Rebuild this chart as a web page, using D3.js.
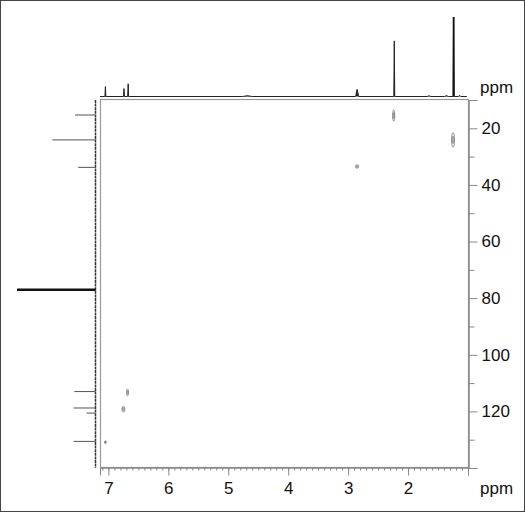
<!DOCTYPE html>
<html>
<head>
<meta charset="utf-8">
<script src="https://cdn.jsdelivr.net/npm/d3@7"></script>
<style>
  body { margin: 0; background: #fff; }
  svg { display: block; font-family: 'Liberation Sans', Arial, sans-serif; }
</style>
</head>
<body>
<div id="App"></div>
<script>
// 1H projection peaks: shift (ppm), intensity (% of tallest), half width (ppm)
const hShift = [7.05, 6.74, 6.67, 4.68, 2.85, 2.23, 1.65, 1.36, 1.24, 1.14];
const hInt = [12.5, 10, 16, 1, 9, 70, 1, 1.2, 100, 1.5];
const hWidth = [0.008, 0.008, 0.008, 0.08, 0.025, 0.008, 0.03, 0.03, 0.01, 0.02];

// 13C projection peaks
const cShift = [15.3, 24.1, 33.8, 77.0, 113.0, 118.8, 120.6, 130.6];
const cInt = [26, 55, 22, 100, 27, 28, 11.5, 28];

// HSQC cross peaks: 1H shift, 13C shift, contour size (ppm)
const xpH = [2.24, 1.25, 2.85, 6.68, 6.75, 7.05];
const xpC = [15.5, 24.1, 33.5, 113.3, 119.2, 130.9];
const xpDH = [0.018, 0.025, 0.028, 0.015, 0.025, 0.015];
const xpDC = [2.0, 2.6, 0.6, 1.2, 1.0, 0.5];

const xTicks = [7, 6, 5, 4, 3, 2];
const yTicks = [20, 40, 60, 80, 100, 120];

const width = 525;
const height = 512;
const box = { left: 100, right: 468, top: 100, bottom: 468 };

const svg = d3.select('#App')
  .append('svg')
  .attr('width', width)
  .attr('height', height);

// outer frame
svg.append('rect')
  .attr('x', 0.5).attr('y', 0.5)
  .attr('width', width - 1).attr('height', height - 1)
  .attr('fill', 'none')
  .attr('stroke', '#444');

const x = d3.scaleLinear().domain([7.14, 1.0]).range([box.left, box.right]);
const y = d3.scaleLinear().domain([10, 140]).range([box.top, box.bottom]);

// projection intensity scales
const hy = d3.scaleLinear().domain([0, 100]).range([96.5, 17]);
const cx = d3.scaleLinear().domain([0, 100]).range([95.5, 17]);

// plot frame
svg.append('rect')
  .attr('x', box.left + 0.5).attr('y', box.top - 0.5)
  .attr('width', box.right - box.left).attr('height', box.bottom - box.top)
  .attr('fill', 'none')
  .attr('stroke', '#999')
  .attr('stroke-width', 1.2);

// x axis (bottom)
const xAxis = svg.append('g')
  .attr('transform', `translate(0,${box.bottom - 0.5})`);
xAxis.call(
  d3.axisBottom(x)
    .tickValues(d3.range(11, 72).map(d => d / 10))
    .tickSize(3)
    .tickFormat('')
);
xAxis.append('g').call(
  d3.axisBottom(x)
    .tickValues(xTicks.concat([1]))
    .tickSize(8)
    .tickFormat(d => (d === 1 ? '' : d))
);
xAxis.selectAll('.domain').attr('stroke', '#888');
xAxis.selectAll('line').attr('stroke', '#888');
xAxis.selectAll('text')
  .attr('font-size', 17)
  .attr('fill', '#111')
  .attr('font-family', "'Liberation Sans', Arial, sans-serif")
  .attr('dy', '0.8em')
  .attr('y', 13);

// y axis (right)
const yAxis = svg.append('g')
  .attr('transform', `translate(${box.right + 0.5},0)`);
yAxis.call(
  d3.axisRight(y)
    .tickValues(d3.range(10, 141, 10).filter(d => yTicks.indexOf(d) < 0 && d < 140))
    .tickSize(6)
    .tickFormat('')
);
yAxis.append('g').call(
  d3.axisRight(y)
    .tickValues(yTicks)
    .tickSize(9)
);
yAxis.selectAll('.domain').attr('stroke', '#888');
yAxis.selectAll('line').attr('stroke', '#888');
yAxis.selectAll('text')
  .attr('font-size', 17)
  .attr('fill', '#111')
  .attr('font-family', "'Liberation Sans', Arial, sans-serif")
  .attr('x', 13);

// ppm labels
svg.append('text')
  .attr('x', 480).attr('y', 93)
  .attr('font-size', 17).attr('fill', '#111')
  .text('ppm');
svg.append('text')
  .attr('x', 480).attr('y', 494)
  .attr('font-size', 17).attr('fill', '#111')
  .text('ppm');

// 1H projection on top
const hPts = [[7.14, 0]];
d3.range(hShift.length).forEach(i => {
  hPts.push([hShift[i] + hWidth[i], 0]);
  hPts.push([hShift[i], hInt[i]]);
  hPts.push([hShift[i] - hWidth[i], 0]);
});
hPts.push([1.02, 0]);
svg.append('path')
  .datum(hPts)
  .attr('fill', '#222')
  .attr('stroke', '#222')
  .attr('stroke-width', 1)
  .attr('d', d3.line().x(d => x(d[0])).y(d => hy(d[1])));
// tallest line is drawn heavier
svg.append('line')
  .attr('x1', x(1.24)).attr('x2', x(1.24))
  .attr('y1', hy(0)).attr('y2', hy(100))
  .attr('stroke', '#111').attr('stroke-width', 1.8);

// 13C projection on the left
svg.append('line')
  .attr('x1', cx(0)).attr('x2', cx(0))
  .attr('y1', y(10)).attr('y2', y(140))
  .attr('stroke', '#333')
  .attr('stroke-width', 1.5)
  .attr('stroke-dasharray', '3,0.6');
svg.selectAll('line.cpeak')
  .data(cShift)
  .enter()
  .append('line')
  .attr('class', 'cpeak')
  .attr('x1', cx(0))
  .attr('x2', (d, i) => cx(cInt[i]))
  .attr('y1', d => y(d))
  .attr('y2', d => y(d))
  .attr('stroke', (d, i) => (cInt[i] === 100 ? '#111' : '#555'))
  .attr('stroke-width', (d, i) => (cInt[i] === 100 ? 2.5 : 1));

// cross peaks, two contour levels each
const contours = svg.append('g');
[1, 0.5].forEach(level => {
  contours.selectAll(null)
    .data(xpH)
    .enter()
    .append('ellipse')
    .attr('cx', d => x(d))
    .attr('cy', (d, i) => y(xpC[i]))
    .attr('rx', (d, i) => Math.max(0.5, (x(0) - x(xpDH[i])) * level))
    .attr('ry', (d, i) => Math.max(0.5, (y(xpDC[i]) - y(0)) * level))
    .attr('fill', 'none')
    .attr('stroke', '#666')
    .attr('stroke-width', 0.7);
});
</script>
</body>
</html>
